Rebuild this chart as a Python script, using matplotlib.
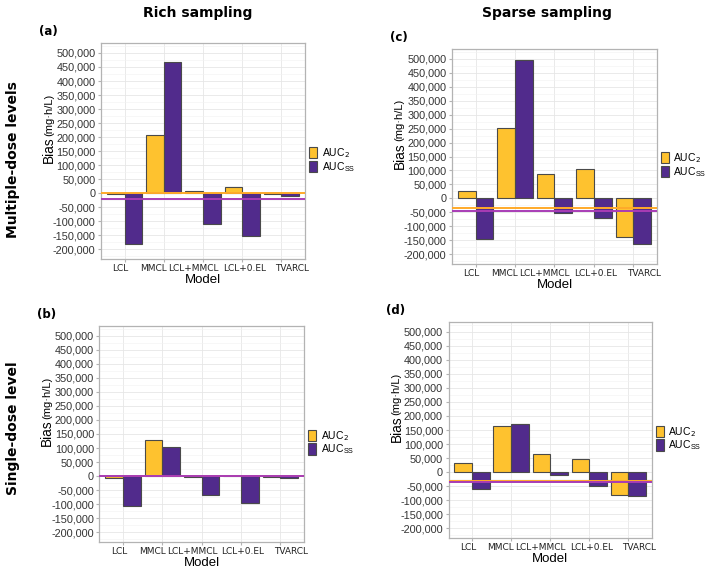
import numpy as np
import matplotlib
matplotlib.use("Agg")
import matplotlib.pyplot as plt
import matplotlib.transforms as mtransforms
from matplotlib.patches import Patch
from matplotlib.ticker import FuncFormatter, MultipleLocator

# Datos (sesgo en mg·h/L)
modelos = ['LCL', 'MMCL', 'LCL+MMCL', 'LCL+0.EL', 'TVARCL']

rich_multi_auc2 = [-2000, 208000, 7000, 21000, -2000]
rich_multi_aucss = [-180000, 468000, -110000, -153000, -10000]
rich_multi_lineas = [-1000, -20000]

sparse_multi_auc2 = [27000, 253000, 88000, 105000, -140000]
sparse_multi_aucss = [-146000, 495000, -52000, -71000, -165000]
sparse_multi_lineas = [-33000, -45000]

rich_single_auc2 = [-8000, 127000, -2000, -1000, -3000]
rich_single_aucss = [-106000, 104000, -68000, -96000, -6000]
rich_single_lineas = [-500, -1500]

sparse_single_auc2 = [33000, 165000, 65000, 45000, -80000]
sparse_single_aucss = [-62000, 170000, -9000, -50000, -86000]
sparse_single_lineas = [-31000, -36000]

color_auc2 = '#FEC22F'
color_aucss = '#512B8C'
color_linea2 = '#FFAA2A'
color_lineass = '#A83CB5'

fig = plt.figure(figsize=(7.09, 5.68), dpi=100)

paneles = [
    ('(a)', [0.1425, 0.544, 0.2877, 0.380], rich_multi_auc2, rich_multi_aucss, rich_multi_lineas),
    ('(c)', [0.6375, 0.5352, 0.289, 0.3785], sparse_multi_auc2, sparse_multi_aucss, sparse_multi_lineas),
    ('(b)', [0.1403, 0.0458, 0.2885, 0.3803], rich_single_auc2, rich_single_aucss, rich_single_lineas),
    ('(d)', [0.6326, 0.0528, 0.2866, 0.3803], sparse_single_auc2, sparse_single_aucss, sparse_single_lineas),
]

fmt = FuncFormatter(lambda v, p: f"{int(v):,}")
x = np.arange(len(modelos))
ancho = 0.45
# desplazamiento de las etiquetas del eje x (unidades de categoría), como en el original
despl = [-0.1, -0.26, -0.25, 0.05, 0.28]

for etiqueta, pos, auc2, aucss, lineas in paneles:
    ax = fig.add_axes(pos)
    ax.set_xlim(-0.6, len(modelos) - 0.4)
    ax.set_ylim(-235000, 535000)
    ax.yaxis.set_major_locator(MultipleLocator(50000))
    ax.yaxis.set_minor_locator(MultipleLocator(25000))
    ax.yaxis.set_major_formatter(fmt)
    ax.grid(True, which='major', color='#E6E6E6', linewidth=0.6)
    ax.grid(True, which='minor', axis='y', color='#F2F2F2', linewidth=0.4)
    ax.set_axisbelow(True)

    ax.bar(x - ancho / 2, auc2, ancho, color=color_auc2, edgecolor='#4A4A4A', linewidth=0.8, zorder=2)
    ax.bar(x + ancho / 2, aucss, ancho, color=color_aucss, edgecolor='#4A4A4A', linewidth=0.8, zorder=2)
    ax.axhline(lineas[0], color=color_linea2, linewidth=1.4, zorder=3)
    ax.axhline(lineas[1], color=color_lineass, linewidth=1.4, zorder=3)

    ax.set_xticks(x)
    ax.set_xticklabels([])
    trans = mtransforms.blended_transform_factory(ax.transData, ax.transAxes)
    for xi, nombre, d in zip(x, modelos, despl):
        ax.text(xi + d, -0.022, nombre, transform=trans, ha='center', va='top',
                fontsize=6.5, family='DejaVu Sans', color='#222222')
    for lab in ax.get_yticklabels():
        lab.set_fontsize(7.8)
        lab.set_family('Liberation Sans')
        lab.set_color('#333333')
    ax.tick_params(length=2.5, color='#B3B3B3', pad=1.5)
    ax.tick_params(which='minor', length=0)
    for s in ax.spines.values():
        s.set_color('#B3B3B3')
        s.set_linewidth(0.9)

    ax.text(0.5, -0.097, 'Model', transform=ax.transAxes, ha='center', va='center',
            fontsize=9.5, family='Liberation Sans')
    ax.text(-0.255, 0.444, 'Bias', rotation=90, ha='center', va='bottom',
            fontsize=9.8, family='Liberation Sans', transform=ax.transAxes)
    ax.text(-0.255, 0.57, '(mg·h/L)', rotation=90, ha='center', va='bottom',
            fontsize=8, family='Liberation Sans', transform=ax.transAxes)
    ax.text(-0.26, 1.025, etiqueta, fontsize=8.5, fontweight='bold',
            family='DejaVu Sans', ha='center', va='bottom', transform=ax.transAxes)

    handles = [Patch(facecolor=color_auc2, edgecolor='#4A4A4A', linewidth=0.8),
               Patch(facecolor=color_aucss, edgecolor='#4A4A4A', linewidth=0.8)]
    ax.legend(handles, [r'AUC$_2$', r'AUC$_\mathregular{SS}$'], loc='center left',
              bbox_to_anchor=(1.02, 0.46), frameon=False,
              handlelength=0.8, handleheight=1.3, labelspacing=0.0,
              handletextpad=0.4, borderpad=0, borderaxespad=0,
              prop={'family': 'Liberation Sans', 'size': 7.5})

fig.text(198 / 709, 1 - 13 / 568, 'Rich sampling', ha='center', va='center',
         fontsize=10, fontweight='bold', family='DejaVu Sans')
fig.text(547 / 709, 1 - 13 / 568, 'Sparse sampling', ha='center', va='center',
         fontsize=10, fontweight='bold', family='DejaVu Sans')
fig.text(13 / 709, 1 - 160 / 568, 'Multiple-dose levels', rotation=90, ha='center', va='center',
         fontsize=10, fontweight='bold', family='DejaVu Sans')
fig.text(13 / 709, 1 - 428 / 568, 'Single-dose level', rotation=90, ha='center', va='center',
         fontsize=10, fontweight='bold', family='DejaVu Sans')

plt.savefig('out.png', dpi=100)
